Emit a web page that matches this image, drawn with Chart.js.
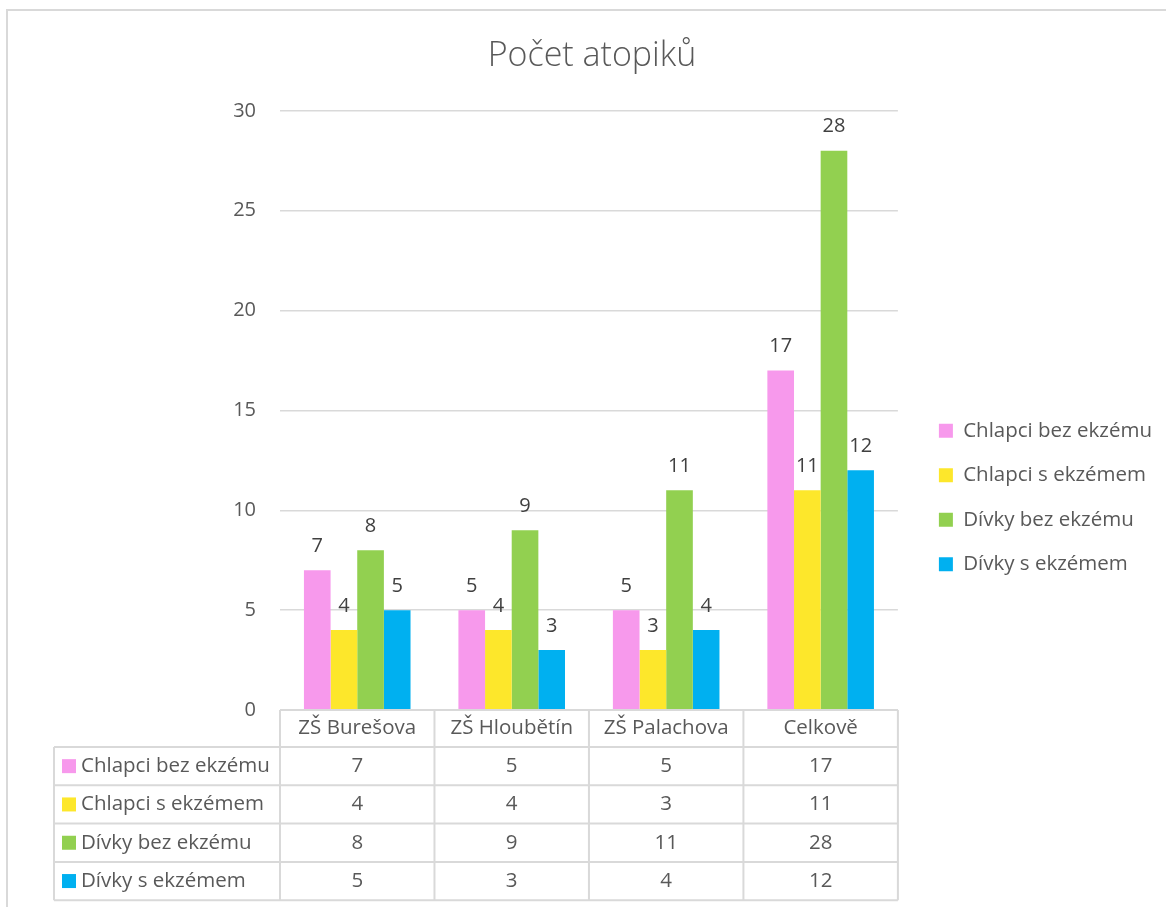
<!DOCTYPE html>
<html>
<head>
<meta charset="utf-8">
<script src="https://cdn.jsdelivr.net/npm/chart.js@4.4.1/dist/chart.umd.min.js"></script>
<style>
  html, body { margin: 0; padding: 0; background: #ffffff; overflow: hidden; }
  #wrap { position: relative; width: 1166px; height: 907px; }
  #c { position: absolute; left: 0; top: 0; }
  #frame {
    position: absolute; left: 6px; top: 9px; width: 1200px; height: 950px;
    border-top: 2px solid #d9d9d9; border-left: 2px solid #d9d9d9;
    box-sizing: border-box; pointer-events: none;
  }
</style>
</head>
<body>
<div id="wrap">
  <canvas id="c" width="1166" height="907"></canvas>
  <div id="frame"></div>
</div>
<script>
// Categories (schools + total)
const categories = ['ZŠ Burešova', 'ZŠ Hloubětín', 'ZŠ Palachova', 'Celkově'];

// Series names
const seriesNames = ['Chlapci bez ekzému', 'Chlapci s ekzémem', 'Dívky bez ekzému', 'Dívky s ekzémem'];

// Series values
const chlapciBezEkzemu = [7, 5, 5, 17];
const chlapciSEkzemem  = [4, 4, 3, 11];
const divkyBezEkzemu   = [8, 9, 11, 28];
const divkySEkzemem    = [5, 3, 4, 12];

// Value axis
const yMin = 0;
const yMax = 30;
const yStep = 5;

const seriesColors = ['#f799ec', '#fde72b', '#92d050', '#00b0f0'];
const seriesValues = [chlapciBezEkzemu, chlapciSEkzemem, divkyBezEkzemu, divkySEkzemem];

const FONT = "'Open Sans', 'DejaVu Sans', sans-serif";
const TEXT = '#595959';
const LINE = '#d9d9d9';
const PAD_LEFT = 39;

// Value labels above each bar
const valueLabels = {
  id: 'valueLabels',
  afterDatasetsDraw(chart) {
    const ctx = chart.ctx;
    ctx.save();
    ctx.font = '20px ' + FONT;
    ctx.fillStyle = '#404040';
    ctx.textAlign = 'center';
    ctx.textBaseline = 'middle';
    chart.data.datasets.forEach((ds, di) => {
      const meta = chart.getDatasetMeta(di);
      meta.data.forEach((bar, i) => {
        ctx.fillText(String(ds.data[i]), bar.x, bar.y - 24);
      });
    });
    ctx.restore();
  }
};

// Data table under the category axis; also nudges the legend block
const dataTable = {
  id: 'dataTable',
  afterLayout(chart) {
    const lg = chart.legend;
    if (lg) {
      const dy = 44, dx = 17;
      lg.top += dy; lg.bottom += dy;
      lg.left += dx; lg.right += dx;
    }
  },
  afterDraw(chart) {
    const ctx = chart.ctx;
    const x = chart.scales.x;
    const area = chart.chartArea;
    const n = categories.length;
    const colW = x.width / n;
    const headTop = area.bottom;
    const headH = 37;
    const rowH = 38.3;
    const tableLeft = area.left - 226;
    const tableRight = x.left + n * colW;
    const rows = chart.data.datasets.length;
    const bottom = headTop + headH + rows * rowH;

    ctx.save();
    ctx.strokeStyle = LINE;
    ctx.lineWidth = 2;
    ctx.beginPath();
    ctx.moveTo(x.left, headTop); ctx.lineTo(tableRight, headTop);
    for (let r = 0; r <= rows; r++) {
      const yy = headTop + headH + r * rowH;
      ctx.moveTo(tableLeft, yy); ctx.lineTo(tableRight, yy);
    }
    for (let c = 0; c <= n; c++) {
      const xx = x.left + c * colW;
      ctx.moveTo(xx, headTop); ctx.lineTo(xx, bottom);
    }
    ctx.moveTo(tableLeft, headTop + headH); ctx.lineTo(tableLeft, bottom);
    ctx.stroke();

    ctx.font = '20.5px ' + FONT;
    ctx.textBaseline = 'middle';
    chart.data.datasets.forEach((ds, r) => {
      const cy = headTop + headH + r * rowH + rowH / 2;
      ctx.fillStyle = ds.backgroundColor;
      ctx.fillRect(tableLeft + 8, cy - 7, 14, 14);
      ctx.fillStyle = TEXT;
      ctx.textAlign = 'left';
      ctx.fillText(ds.label, tableLeft + 27, cy);
      ctx.textAlign = 'center';
      ds.data.forEach((v, i) => {
        ctx.fillText(String(v), x.getPixelForValue(i), cy);
      });
    });
    ctx.restore();
  }
};

new Chart(document.getElementById('c'), {
  type: 'bar',
  data: {
    labels: categories,
    datasets: seriesNames.map((name, i) => ({
      label: name,
      data: seriesValues[i],
      backgroundColor: seriesColors[i],
      borderWidth: 0,
      barPercentage: 1,
      categoryPercentage: 0.69
    }))
  },
  options: {
    responsive: false,
    animation: false,
    devicePixelRatio: 1,
    layout: { padding: { top: 0, right: 21, bottom: 0, left: PAD_LEFT } },
    plugins: {
      title: {
        display: true,
        text: 'Počet atopiků',
        color: TEXT,
        font: { family: FONT, size: 34, weight: '300' },
        padding: { top: 36, bottom: 34 }
      },
      legend: {
        display: true,
        position: 'right',
        align: 'center',
        labels: {
          color: TEXT,
          font: { family: FONT, size: 20.5 },
          boxWidth: 14,
          boxHeight: 14,
          padding: 24
        }
      },
      tooltip: { enabled: false }
    },
    scales: {
      x: {
        grid: { display: false, drawTicks: false },
        border: { display: false },
        ticks: { color: TEXT, font: { family: FONT, size: 20.5 }, padding: 6 },
        afterFit(scale) { scale.height = 197; }
      },
      y: {
        min: yMin,
        max: yMax,
        ticks: { stepSize: yStep, color: TEXT, font: { family: FONT, size: 20 }, padding: 24 },
        grid: { color: LINE, lineWidth: 1.5, drawTicks: false },
        border: { display: false },
        afterFit(scale) { scale.width = 280 - PAD_LEFT; }
      }
    }
  },
  plugins: [valueLabels, dataTable]
});
</script>
</body>
</html>
